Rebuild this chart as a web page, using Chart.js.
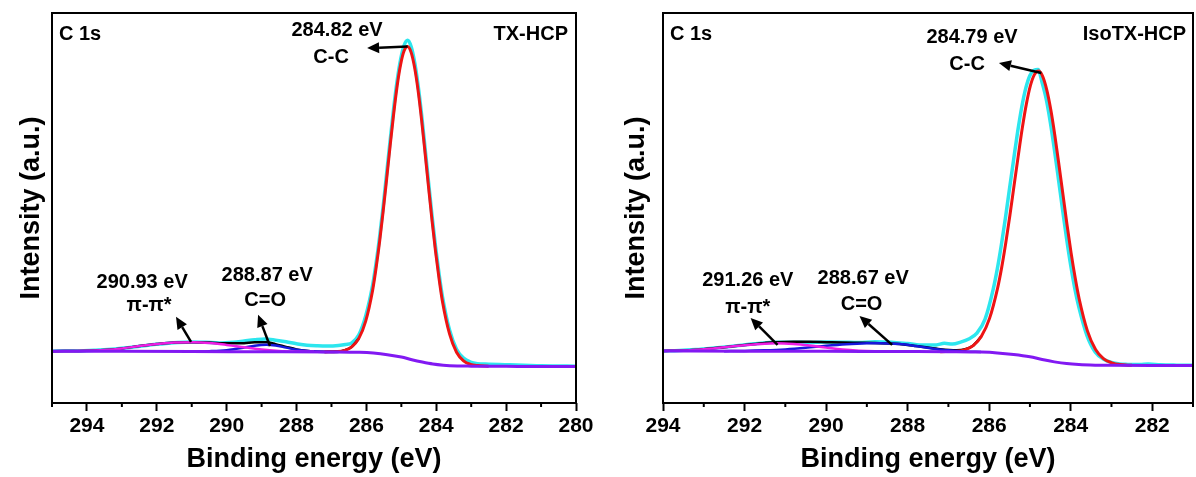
<!DOCTYPE html>
<html>
<head>
<meta charset="utf-8">
<title>C 1s XPS</title>
<script src="https://cdn.jsdelivr.net/npm/chart.js@4.4.1/dist/chart.umd.min.js"></script>
<style>
  body { margin: 0; background: #fff; }
  #wrap { position: relative; width: 1196px; height: 477px; }
  canvas { position: absolute; top: 0; }
</style>
</head>
<body>
<div id="wrap">
  <canvas id="txChart" width="600" height="477" style="left:0"></canvas>
  <canvas id="isoChart" width="596" height="477" style="left:600px"></canvas>
</div>
<script>
// ---- TX-HCP : C 1s ----
const txRawE = [295, 294.6, 294.2, 293.8, 293.4, 293, 292.6, 292.2, 291.8, 291.4, 291, 290.6, 290.2, 289.8, 289.5, 289.2, 288.9, 288.6, 288.3, 288, 287.7, 287.4, 287.1, 286.8, 286.6, 286.42, 286.22, 286.02, 285.82, 285.72, 285.62, 285.52, 285.42, 285.32, 285.22, 285.12, 285.02, 284.92, 284.82, 284.72, 284.62, 284.52, 284.42, 284.32, 284.22, 284.12, 284.02, 283.92, 283.82, 283.62, 283.42, 283.22, 283.02, 282.82, 282.5, 282.2, 281.9, 281.5, 281, 280.5, 280];
const txRawI = [13.3, 13.4, 13.35, 13.55, 13.75, 14.05, 14.45, 14.9, 15.2, 15.5, 15.65, 15.55, 15.4, 15.6, 15.9, 16.2, 16.4, 16.1, 15.7, 15.2, 14.8, 14.65, 14.6, 14.75, 15.0, 15.4, 17.4, 22.3, 30.3, 36.0, 42.7, 50.4, 58.9, 67.3, 75.5, 82.6, 88.1, 91.7, 93.0, 91.4, 87.4, 81.4, 73.9, 65.3, 56.5, 47.9, 40.0, 33.1, 27.1, 18.7, 13.8, 11.5, 10.5, 10.1, 9.95, 9.85, 9.8, 9.7, 9.55, 9.5, 9.45];

const txEnvE = [295, 294, 293.5, 293, 292.5, 292, 291.5, 290.93, 290.5, 290, 289.5, 289.2, 288.87, 288.6, 288.3, 288, 287.6, 287.2, 286.82, 286.62, 286.42, 286.22];
const txEnvI = [13.3, 13.4, 13.6, 14.0, 14.6, 15.1, 15.5, 15.6, 15.5, 15.3, 15.35, 15.55, 15.55, 15.1, 14.4, 13.75, 13.3, 13.15, 13.2, 13.55, 14.4, 16.5];

const txCcE = [287.2, 286.82, 286.62, 286.42, 286.22, 286.02, 285.82, 285.72, 285.62, 285.52, 285.42, 285.32, 285.22, 285.12, 285.02, 284.92, 284.82, 284.72, 284.62, 284.52, 284.42, 284.32, 284.22, 284.12, 284.02, 283.92, 283.82, 283.62, 283.42, 283.22, 283.02, 282.82, 282.5];
const txCcI = [13.1, 13.2, 13.5, 14.4, 16.5, 21.0, 29.0, 34.8, 41.5, 49.2, 57.5, 66.0, 74.1, 81.3, 86.8, 90.3, 91.4, 89.9, 86.0, 80.1, 72.6, 64.1, 55.3, 46.7, 38.8, 31.9, 25.9, 17.7, 13.0, 10.8, 9.9, 9.6, 9.45];

const txCoE = [291, 290.5, 290, 289.5, 289.2, 288.87, 288.6, 288.3, 288, 287.6, 287.2, 286.8];
const txCoI = [13.2, 13.3, 13.55, 14.2, 14.7, 14.95, 14.75, 14.2, 13.65, 13.25, 13.1, 13.08];

const txPiE = [295, 294, 293.5, 293, 292.5, 292, 291.5, 290.93, 290.5, 290, 289.5, 289, 288.5, 288, 287.5];
const txPiI = [13.3, 13.4, 13.6, 14.0, 14.6, 15.1, 15.5, 15.6, 15.4, 14.9, 14.3, 13.7, 13.35, 13.2, 13.15];

const txBgE = [295, 293, 291, 289, 287, 286.2, 285.8, 285.4, 285.0, 284.7, 284.4, 284.1, 283.8, 283.4, 283.0, 282, 281, 280];
const txBgI = [13.3, 13.25, 13.2, 13.15, 13.1, 13.0, 12.8, 12.4, 11.8, 11.1, 10.5, 10.0, 9.7, 9.5, 9.45, 9.4, 9.35, 9.35];

// ---- IsoTX-HCP : C 1s ----
const isoRawE = [294, 293.6, 293.2, 292.8, 292.4, 292, 291.6, 291.2, 290.8, 290.4, 290, 289.6, 289.2, 288.8, 288.4, 288, 287.6, 287.3, 287.1, 286.9, 286.7, 286.5, 286.3, 286.1, 285.9, 285.8, 285.7, 285.6, 285.5, 285.4, 285.3, 285.2, 285.1, 285.0, 284.9, 284.8, 284.7, 284.6, 284.5, 284.4, 284.3, 284.2, 284.1, 284.0, 283.9, 283.8, 283.6, 283.4, 283.2, 283.0, 282.8, 282.6, 282.3, 282.1, 281.8, 281.4, 281];
const isoRawI = [13.35, 13.45, 13.7, 14.05, 14.45, 14.9, 15.3, 15.55, 15.6, 15.5, 15.65, 15.6, 15.5, 15.7, 15.6, 15.25, 14.85, 14.9, 15.3, 15.1, 15.6, 16.4, 17.9, 21.5, 29.2, 34.4, 40.6, 47.5, 55.0, 62.4, 69.6, 75.9, 80.8, 84.0, 85.3, 85.5, 82.1, 77.9, 72.0, 65.0, 57.4, 49.6, 42.1, 35.3, 29.4, 24.6, 17.3, 13.1, 11.3, 10.4, 10.0, 9.9, 9.85, 10.0, 9.8, 9.7, 9.65];

const isoEnvE = [294, 293.5, 293, 292.5, 292, 291.5, 291.26, 290.8, 290.4, 290, 289.6, 289.2, 288.8, 288.4, 288, 287.6, 287.2, 286.8, 286.59, 286.39, 286.19];
const isoEnvI = [13.35, 13.45, 13.8, 14.3, 14.85, 15.4, 15.6, 15.7, 15.7, 15.6, 15.5, 15.45, 15.4, 15.25, 14.9, 14.35, 13.8, 13.55, 13.8, 14.75, 17.1];

const isoCcE = [287.2, 286.79, 286.59, 286.39, 286.19, 285.99, 285.79, 285.69, 285.59, 285.49, 285.39, 285.29, 285.19, 285.09, 284.99, 284.89, 284.79, 284.69, 284.59, 284.49, 284.39, 284.29, 284.19, 284.09, 283.99, 283.89, 283.79, 283.59, 283.39, 283.19, 282.99, 282.79, 282.5];
const isoCcI = [13.15, 13.3, 13.7, 14.7, 17.1, 21.7, 29.6, 34.9, 41.2, 48.2, 55.7, 63.1, 70.3, 76.5, 81.3, 84.2, 85.1, 83.8, 80.4, 75.3, 68.7, 61.2, 53.5, 45.7, 38.5, 32.1, 26.6, 18.5, 13.7, 11.3, 10.3, 9.85, 9.65];

const isoCoE = [292.5, 292, 291.5, 291, 290.5, 290, 289.5, 289, 288.67, 288.2, 287.8, 287.4, 287, 286.6, 286.2];
const isoCoI = [13.3, 13.35, 13.5, 13.75, 14.15, 14.65, 15.05, 15.3, 15.35, 15.1, 14.6, 14.0, 13.5, 13.2, 13.1];

const isoPiE = [294, 293.5, 293, 292.5, 292, 291.5, 291.26, 290.8, 290.4, 290, 289.6, 289.2, 288.8, 288.4];
const isoPiI = [13.35, 13.45, 13.8, 14.3, 14.8, 15.2, 15.3, 15.15, 14.75, 14.2, 13.7, 13.4, 13.25, 13.2];

const isoBgE = [294, 292, 290, 288, 287, 286.2, 285.8, 285.4, 285.0, 284.7, 284.4, 284.1, 283.8, 283.4, 283.0, 282, 281];
const isoBgI = [13.35, 13.3, 13.25, 13.2, 13.15, 13.05, 12.85, 12.45, 11.85, 11.15, 10.55, 10.1, 9.85, 9.7, 9.65, 9.6, 9.6];

Chart.defaults.font.family = '"Liberation Sans", Arial, Helvetica, sans-serif';
Chart.defaults.color = '#000';

const FONT = 'bold 20px "Liberation Sans", Arial, Helvetica, sans-serif';

function line(E, I, color, width) {
  return {
    data: E.map((e, i) => ({ x: e, y: I[i] })),
    borderColor: color,
    borderWidth: width,
    pointRadius: 0,
    fill: false,
    cubicInterpolationMode: 'monotone'
  };
}

// box around the plot + short minor ticks at odd eV
const frameBox = {
  id: 'frameBox',
  afterDraw(chart) {
    const { ctx, chartArea: a, scales: { x } } = chart;
    ctx.save();
    ctx.strokeStyle = '#000';
    ctx.lineWidth = 2;
    ctx.strokeRect(a.left, a.top, a.right - a.left, a.bottom - a.top);
    x.ticks.forEach(t => {
      if (t.value % 2 !== 0) {
        const px = x.getPixelForValue(t.value);
        ctx.beginPath();
        ctx.moveTo(px, a.bottom);
        ctx.lineTo(px, a.bottom + 4);
        ctx.stroke();
      }
    });
    ctx.restore();
  }
};

// peak labels and arrows, placed in data units
function peakNotes(labels, arrows) {
  return {
    id: 'peakNotes',
    afterDatasetsDraw(chart) {
      const { ctx, scales: { x, y } } = chart;
      ctx.save();
      ctx.fillStyle = '#000';
      ctx.strokeStyle = '#000';
      ctx.font = FONT;
      ctx.textBaseline = 'middle';
      labels.forEach(l => {
        ctx.textAlign = l.align || 'center';
        ctx.fillText(l.text, x.getPixelForValue(l.x), y.getPixelForValue(l.y));
      });
      arrows.forEach(a => {
        const x0 = x.getPixelForValue(a.from[0]), y0 = y.getPixelForValue(a.from[1]);
        const x1 = x.getPixelForValue(a.to[0]), y1 = y.getPixelForValue(a.to[1]);
        const ang = Math.atan2(y1 - y0, x1 - x0);
        const hl = 12, hw = 5.5;
        const bx = x1 - hl * Math.cos(ang), by = y1 - hl * Math.sin(ang);
        ctx.lineWidth = 2.5;
        ctx.beginPath();
        ctx.moveTo(x0, y0);
        ctx.lineTo(bx, by);
        ctx.stroke();
        ctx.beginPath();
        ctx.moveTo(x1, y1);
        ctx.lineTo(bx + hw * Math.sin(ang), by - hw * Math.cos(ang));
        ctx.lineTo(bx - hw * Math.sin(ang), by + hw * Math.cos(ang));
        ctx.closePath();
        ctx.fill();
      });
      ctx.restore();
    }
  };
}

function xpsChart(id, s) {
  return new Chart(document.getElementById(id), {
    type: 'line',
    data: {
      // first dataset ends up on top
      datasets: [
        line(s.bg[0], s.bg[1], '#8219F2', 3),
        line(s.pi[0], s.pi[1], '#EE1EE4', 2.5),
        line(s.co[0], s.co[1], '#1717DC', 2.5),
        line(s.cc[0], s.cc[1], '#EE1414', 3),
        line(s.env[0], s.env[1], '#000000', 2.5),
        line(s.raw[0], s.raw[1], '#2DE6EE', 3.5)
      ]
    },
    options: {
      responsive: false,
      animation: false,
      layout: { padding: { top: 13, right: s.padRight, left: 0, bottom: 0 } },
      plugins: { legend: { display: false }, tooltip: { enabled: false } },
      scales: {
        x: {
          type: 'linear',
          reverse: true,
          min: s.min,
          max: s.max,
          afterFit: sc => { sc.height = 74; },
          ticks: {
            stepSize: 1,
            autoSkip: false,
            maxRotation: 0,
            padding: 3,
            color: '#000',
            font: { size: 21, weight: 'bold' },
            callback: v => (v % 2 === 0 ? v : '')
          },
          grid: {
            drawOnChartArea: false,
            drawTicks: true,
            tickLength: 8,
            tickWidth: 2,
            tickColor: c => (c.tick && c.tick.value % 2 === 0 ? '#000' : 'rgba(0,0,0,0)')
          },
          border: { display: false },
          title: {
            display: true,
            text: 'Binding energy (eV)',
            color: '#000',
            font: { size: 27, weight: 'bold' },
            padding: { top: 0, bottom: 1 }
          }
        },
        y: {
          min: 0,
          max: 100,
          afterFit: sc => { sc.width = s.yWidth; },
          ticks: { display: false },
          grid: { display: false },
          border: { display: false },
          title: {
            display: true,
            text: 'Intensity (a.u.)',
            color: '#000',
            font: { size: 27, weight: 'bold' },
            padding: { top: s.yTitlePad, bottom: 0 }
          }
        }
      }
    },
    plugins: [frameBox, peakNotes(s.labels, s.arrows)]
  });
}

xpsChart('txChart', {
  raw: [txRawE, txRawI], env: [txEnvE, txEnvI], cc: [txCcE, txCcI],
  co: [txCoE, txCoI], pi: [txPiE, txPiI], bg: [txBgE, txBgI],
  min: 280, max: 295, yWidth: 52, padRight: 24, yTitlePad: 15,
  labels: [
    { text: 'C 1s', x: 294.8, y: 94.6, align: 'left' },
    { text: 'TX-HCP', x: 280.23, y: 94.6, align: 'right' },
    { text: '284.82 eV', x: 286.84, y: 95.4 },
    { text: 'C-C', x: 287.01, y: 88.6 },
    { text: '290.93 eV', x: 292.42, y: 31.0 },
    { text: 'π-π*', x: 292.22, y: 25.1 },
    { text: '288.87 eV', x: 288.84, y: 32.8 },
    { text: 'C=O', x: 288.9, y: 26.4 }
  ],
  arrows: [
    { from: [284.82, 91.4], to: [285.98, 91.0] },
    { from: [291.02, 15.7], to: [291.45, 22.1] },
    { from: [288.76, 14.6], to: [289.1, 22.6] }
  ]
});

xpsChart('isoChart', {
  raw: [isoRawE, isoRawI], env: [isoEnvE, isoEnvI], cc: [isoCcE, isoCcI],
  co: [isoCoE, isoCoI], pi: [isoPiE, isoPiI], bg: [isoBgE, isoBgI],
  min: 281, max: 294, yWidth: 63, padRight: 1, yTitlePad: 20,
  labels: [
    { text: 'C 1s', x: 293.83, y: 94.6, align: 'left' },
    { text: 'IsoTX-HCP', x: 281.17, y: 94.6, align: 'right' },
    { text: '284.79 eV', x: 286.42, y: 93.8 },
    { text: 'C-C', x: 286.54, y: 86.8 },
    { text: '291.26 eV', x: 291.92, y: 31.3 },
    { text: 'π-π*', x: 291.92, y: 24.6 },
    { text: '288.67 eV', x: 289.09, y: 31.8 },
    { text: 'C=O', x: 289.13, y: 25.3 }
  ],
  arrows: [
    { from: [284.72, 84.6], to: [285.76, 87.2] },
    { from: [291.19, 14.9], to: [291.85, 21.8] },
    { from: [288.38, 14.9], to: [289.18, 22.3] }
  ]
});
</script>
</body>
</html>
